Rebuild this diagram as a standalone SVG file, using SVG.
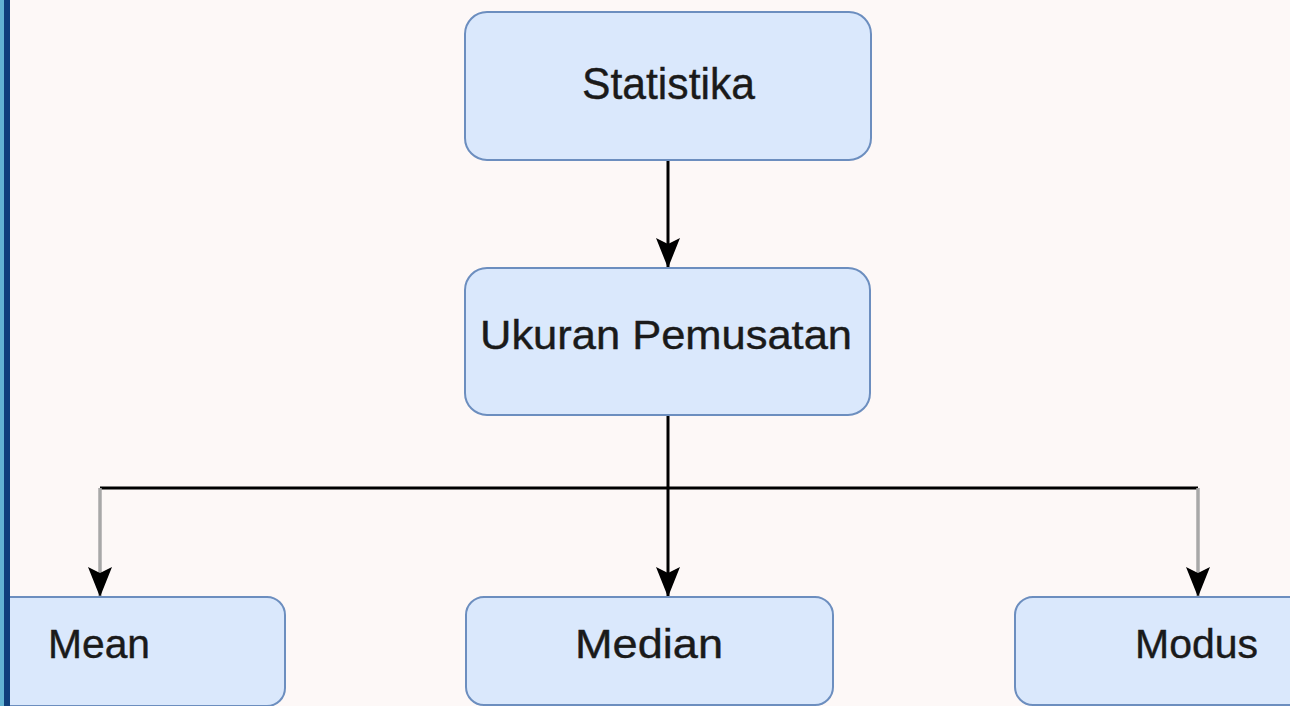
<svg xmlns="http://www.w3.org/2000/svg" width="1290" height="706" viewBox="0 0 1290 706">
<style>
.box{fill:#dae8fc;stroke:#6c8ebf;stroke-width:2}
.lbl{font-family:"Liberation Sans",Arial,sans-serif;fill:#1a1a1a;stroke:#1a1a1a;stroke-width:0.4}
.blk{stroke:#000;stroke-width:3;fill:none}
.gry{stroke:#a8a8a8;stroke-width:3.5;fill:none}
</style>
<defs>
<marker id="arr" markerUnits="userSpaceOnUse" viewBox="0 -13 30 26" refX="30" refY="0" markerWidth="30" markerHeight="26" orient="auto">
<path d="M0,-12 L30,0 L0,12 L6,0 Z" fill="#000"/>
</marker>
</defs>
<rect width="1290" height="706" fill="#fdf8f7"/>
<g id="connectors">
<path class="blk" d="M668,160 V268" marker-end="url(#arr)"/>
<path class="blk" d="M100,488 H1198"/>
<path class="blk" d="M668,415 V597" marker-end="url(#arr)"/>
<path class="gry" d="M100,488 V597" marker-end="url(#arr)"/>
<path class="gry" d="M1198,488 V597" marker-end="url(#arr)"/>
</g>
<g id="statistika">
<rect class="box" x="465" y="12" width="406" height="148" rx="22"/>
<text class="lbl" x="582" y="99" font-size="44" textLength="173" lengthAdjust="spacingAndGlyphs">Statistika</text>
</g>
<g id="ukuran">
<rect class="box" x="465" y="268" width="405" height="147" rx="22"/>
<text class="lbl" x="480" y="349" font-size="40" textLength="372" lengthAdjust="spacingAndGlyphs">Ukuran Pemusatan</text>
</g>
<g id="mean">
<rect class="box" x="-20" y="597" width="305" height="109" rx="18"/>
<text class="lbl" x="48" y="658" font-size="40" textLength="102" lengthAdjust="spacingAndGlyphs">Mean</text>
</g>
<g id="median">
<rect class="box" x="466" y="597" width="367" height="108" rx="18"/>
<text class="lbl" x="575" y="658" font-size="40" textLength="148" lengthAdjust="spacingAndGlyphs">Median</text>
</g>
<g id="modus">
<rect class="box" x="1015" y="597" width="300" height="108" rx="18"/>
<text class="lbl" x="1135" y="658" font-size="40" textLength="123" lengthAdjust="spacingAndGlyphs">Modus</text>
</g>
<g id="border">
<rect x="0" y="0" width="4" height="706" fill="#62b3d3"/>
<rect x="4" y="0" width="6" height="706" fill="#0f3f7c"/>
</g>
</svg>
